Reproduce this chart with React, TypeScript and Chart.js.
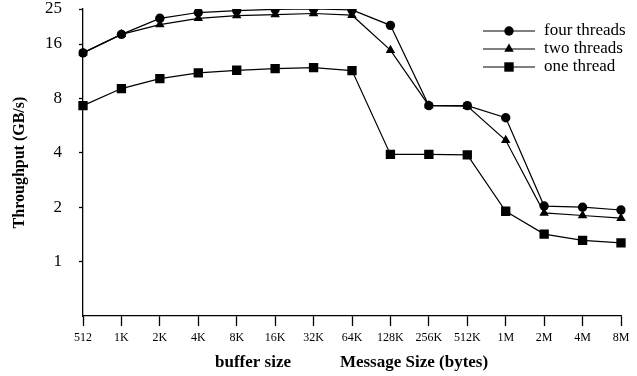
import React, { useEffect, useRef } from "react";
import { Chart, registerables } from "chart.js";

Chart.register(...registerables);

const categories = ["512", "1K", "2K", "4K", "8K", "16K", "32K", "64K", "128K", "256K", "512K", "1M", "2M", "4M", "8M"];
const fourThreads = [14.3, 18.1, 22.2, 23.9, 24.5, 24.9, 25.0, 24.7, 20.3, 7.3, 7.3, 6.25, 2.03, 2.0, 1.93];
const twoThreads = [14.3, 18.1, 20.5, 22.2, 23.0, 23.3, 23.6, 23.1, 14.8, 7.3, 7.25, 4.69, 1.86, 1.8, 1.74];
const oneThread = [7.3, 9.07, 10.3, 11.07, 11.45, 11.7, 11.85, 11.4, 3.92, 3.92, 3.9, 1.9, 1.42, 1.31, 1.27];
const yTicks = [1, 2, 4, 8, 16, 25];
const seriesNames = ["four threads", "two threads", "one thread"];
const xTitleLeft = "buffer size";
const xTitleRight = "Message Size (bytes)";
const yTitle = "Throughput (GB/s)";

const SERIF = "'Liberation Serif', 'Times New Roman', serif";

function drawMarker(ctx: CanvasRenderingContext2D, style: string, x: number, y: number) {
  ctx.beginPath();
  if (style === "circle") {
    ctx.arc(x, y, 4.7, 0, Math.PI * 2);
  } else if (style === "triangle") {
    const r = 5.5;
    ctx.moveTo(x, y - r);
    ctx.lineTo(x + r * Math.sin((2 * Math.PI) / 3), y - r * Math.cos((2 * Math.PI) / 3));
    ctx.lineTo(x + r * Math.sin((4 * Math.PI) / 3), y - r * Math.cos((4 * Math.PI) / 3));
    ctx.closePath();
  } else {
    ctx.rect(x - 4.7, y - 4.7, 9.4, 9.4);
  }
  ctx.fill();
}

export default function App() {
  const ref = useRef<HTMLCanvasElement | null>(null);

  useEffect(() => {
    if (!ref.current) return;
    const styles = ["circle", "triangle", "rect"];
    const radii = [4.7, 5.5, 6.6];
    const series = [fourThreads, twoThreads, oneThread];

    const overlay = {
      id: "overlay",
      afterDraw(chart: any) {
        const ctx = chart.ctx as CanvasRenderingContext2D;
        const area = chart.chartArea;
        ctx.save();
        ctx.fillStyle = "#000";
        ctx.strokeStyle = "#000";
        ctx.font = `bold 17px ${SERIF}`;
        ctx.textAlign = "center";
        ctx.textBaseline = "middle";
        ctx.fillText(xTitleLeft, area.left + 170, 363);
        ctx.fillText(xTitleRight, area.left + 331, 363);
        const rows = [31, 49, 67];
        ctx.font = `17px ${SERIF}`;
        ctx.textAlign = "left";
        seriesNames.forEach((name, i) => {
          const y = rows[i];
          ctx.lineWidth = 1.2;
          ctx.beginPath();
          ctx.moveTo(483, y);
          ctx.lineTo(535, y);
          ctx.stroke();
          drawMarker(ctx, styles[i], 509, y);
          ctx.fillText(name, 544, y);
        });
        ctx.restore();
      },
    };

    const chart = new Chart(ref.current, {
      type: "line",
      data: {
        labels: categories,
        datasets: series.map((d, i) => ({
          label: seriesNames[i],
          data: d,
          borderColor: "#000",
          backgroundColor: "#000",
          borderWidth: 1.2,
          pointStyle: styles[i] as any,
          pointRadius: radii[i],
          pointBorderWidth: 0,
          pointBackgroundColor: "#000",
          fill: false,
          tension: 0,
        })),
      },
      options: {
        animation: false,
        responsive: false,
        maintainAspectRatio: false,
        layout: { padding: { top: 9, right: 16, left: 0, bottom: 0 } },
        plugins: {
          legend: { display: false },
          tooltip: { enabled: false },
        },
        scales: {
          x: {
            type: "category",
            offset: false,
            grid: {
              display: true,
              drawOnChartArea: false,
              drawTicks: true,
              tickLength: 10,
              tickWidth: 1.3,
              color: "#000",
              offset: false,
            },
            border: { display: true, color: "#000", width: 1.3 },
            ticks: {
              autoSkip: false,
              maxRotation: 0,
              minRotation: 0,
              padding: 5,
              color: "#000",
              font: { family: SERIF, size: 12 },
            },
            afterFit(scale: any) {
              scale.height = 60;
              scale.paddingLeft = 0;
              scale.paddingRight = 0;
            },
          },
          y: {
            type: "logarithmic",
            min: 0.5,
            max: 25,
            grid: {
              display: true,
              drawOnChartArea: false,
              drawTicks: true,
              tickLength: 4,
              tickWidth: 1.3,
              color: "#000",
            },
            border: { display: true, color: "#000", width: 1.3 },
            afterBuildTicks(scale: any) {
              scale.ticks = yTicks.map((v) => ({ value: v }));
            },
            ticks: {
              color: "#000",
              padding: 17,
              font: { family: SERIF, size: 17 },
              callback: (v: any) => String(v),
            },
            title: {
              display: true,
              text: yTitle,
              color: "#000",
              font: { family: SERIF, size: 16, weight: "bold" },
              padding: { top: 10, bottom: 0 },
            },
            afterFit(scale: any) {
              scale.width = 83;
              scale.paddingTop = 0;
              scale.paddingBottom = 0;
            },
          },
        },
      },
      plugins: [overlay],
    });
    return () => chart.destroy();
  }, []);

  return (
    <div style={{ position: "fixed", left: 0, top: 0, width: 637, height: 376, background: "#fff" }}>
      <canvas ref={ref} width={637} height={376} style={{ width: 637, height: 376 }} />
    </div>
  );
}
